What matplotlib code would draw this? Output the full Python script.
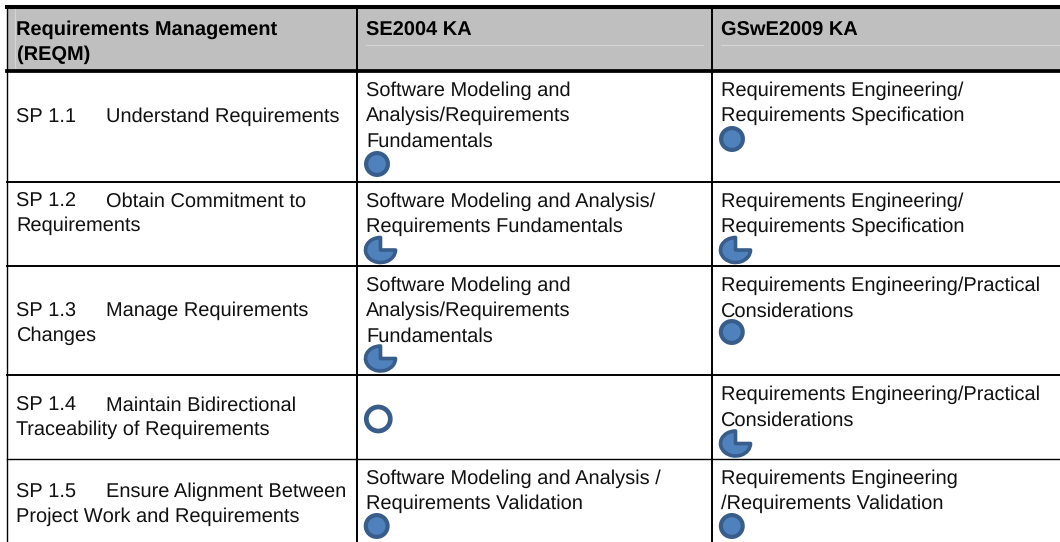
import matplotlib
matplotlib.use('Agg')
import matplotlib.pyplot as plt
from matplotlib.patches import Wedge, Rectangle
from matplotlib.transforms import Affine2D

# table content
headers = [['Requirements Management', '(REQM)'], ['SE2004 KA'], ['GSwE2009 KA']]
codes = ['SP 1.1', 'SP 1.2', 'SP 1.3', 'SP 1.4', 'SP 1.5']
practices = [
    ['Understand Requirements'],
    ['Obtain Commitment to', 'Requirements'],
    ['Manage Requirements', 'Changes'],
    ['Maintain Bidirectional', 'Traceability of Requirements'],
    ['Ensure Alignment Between', 'Project Work and Requirements'],
]
se2004 = [
    ['Software Modeling and', 'Analysis/Requirements', 'Fundamentals'],
    ['Software Modeling and Analysis/', 'Requirements Fundamentals'],
    ['Software Modeling and', 'Analysis/Requirements', 'Fundamentals'],
    [],
    ['Software Modeling and Analysis /', 'Requirements Validation'],
]
gswe2009 = [
    ['Requirements Engineering/', 'Requirements Specification'],
    ['Requirements Engineering/', 'Requirements Specification'],
    ['Requirements Engineering/Practical', 'Considerations'],
    ['Requirements Engineering/Practical', 'Considerations'],
    ['Requirements Engineering', '/Requirements Validation'],
]
# coverage: F full, L largely, N none
se2004_cov = ['F', 'L', 'L', 'N', 'F']
gswe2009_cov = ['F', 'L', 'F', 'L', 'F']

# layout in image pixels
col_x = [6.7, 356.7, 711.7, 1060]
row_y = [7, 71, 182, 266, 375, 459, 542]
text_x = [16.5, 366, 721]
title_x = 106.5
practice_base = [122, 206, 316, 410, 497]
se_marker = [(377, 164), (380.5, 250), (380.5, 358.5), (378.3, 419), (376.7, 526)]
gswe_marker = [(732, 139), (735.5, 250), (731.8, 332), (735.5, 443.5), (731.8, 526)]

plt.rcParams['font.family'] = ['Liberation Sans', 'DejaVu Sans']
plt.rcParams['text.hinting'] = 'no_hinting'
plt.rcParams['text.hinting_factor'] = 1
fig = plt.figure(figsize=(10.6, 5.42), dpi=100)
ax = fig.add_axes([0, 0, 1, 1])
ax.set_xlim(0, 1060)
ax.set_ylim(542, 0)
ax.axis('off')

FS = 14.4
LINE = 25.2
BLUE = '#4F81BD'
EDGE = '#385D8A'
INK = '#111111'


def write_lines(x, y, lines, **kw):
    for k, line in enumerate(lines):
        # strings without descenders land a pixel high otherwise
        nudge = 0 if set(line) & set('gjpqy(),/') else 0.7
        ax.text(x, y + k * LINE + nudge, line, fontsize=FS, va='baseline', ha='left', **kw)


def marker(x, y, kind):
    if kind == 'F':
        ax.add_patch(Wedge((x, y), 10.9, 0, 360, fc=BLUE, ec=EDGE, lw=3.0))
    elif kind == 'N':
        ax.add_patch(Wedge((x, y), 12, 0, 360, fc='white', ec=EDGE, lw=3.4))
    else:
        # y axis is inverted, so the angles run clockwise on screen
        tr = Affine2D().scale(15, 12.5).translate(x, y) + ax.transData
        ax.add_patch(Wedge((0, 0), 1, 0, 270, fc=BLUE, ec=EDGE, lw=2.6,
                           transform=tr, joinstyle='round'))


ax.add_patch(Rectangle((col_x[0], row_y[0]), col_x[3] - col_x[0], row_y[1] - row_y[0],
                       fc='#BFBFBF', ec='none'))
ax.plot([15.2, 15.2], [9, 69], color='#D4D4D4', lw=0.8)
ax.plot([366, 703], [44.5, 44.5], color='#D4D4D4', lw=0.8)
ax.plot([721, 1060], [44.5, 44.5], color='#D4D4D4', lw=0.8)

for x, h in zip(text_x, headers):
    write_lines(x, 35, h, fontweight='bold', color='black')

for i in range(5):
    y0 = row_y[i + 1]
    write_lines(text_x[0], practice_base[i], [codes[i]], color=INK)
    write_lines(title_x, practice_base[i], practices[i][:1], color=INK)
    write_lines(text_x[0], practice_base[i] + LINE, practices[i][1:], color=INK)
    write_lines(text_x[1], y0 + 24.5, se2004[i], color=INK)
    write_lines(text_x[2], y0 + 24.5, gswe2009[i], color=INK)
    marker(se_marker[i][0], se_marker[i][1], se2004_cov[i])
    marker(gswe_marker[i][0], gswe_marker[i][1], gswe2009_cov[i])

# grid lines
ax.plot([col_x[0], col_x[3]], [row_y[0], row_y[0]], color='black', lw=2.9)
ax.plot([col_x[0], col_x[3]], [row_y[1], row_y[1]], color='black', lw=2.7)
for y in row_y[2:5]:
    ax.plot([col_x[0], col_x[3]], [y, y], color='black', lw=1.4)
ax.plot([col_x[0], col_x[3]], [row_y[5], row_y[5]], color='black', lw=1.0)
ax.plot([col_x[0], col_x[0]], [row_y[0], row_y[6]], color='black', lw=1.0)
for x in col_x[1:3]:
    ax.plot([x, x], [row_y[0], row_y[6]], color='black', lw=1.4)

fig.savefig('out.png', dpi=100)
